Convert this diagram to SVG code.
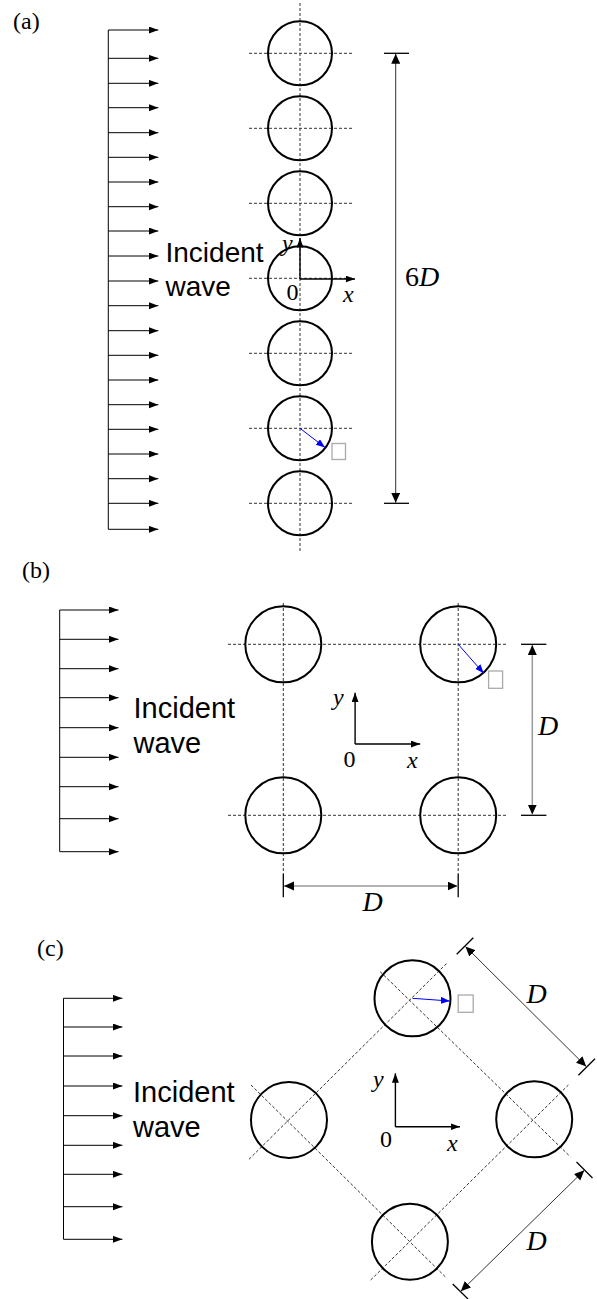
<svg xmlns="http://www.w3.org/2000/svg" width="597" height="1299" viewBox="0 0 597 1299">
<defs>
<marker id="ah" markerUnits="userSpaceOnUse" markerWidth="11" markerHeight="8" refX="9.5" refY="3.5" orient="auto"><path d="M0,0 L9.5,3.5 L0,7 z" fill="#000"/></marker>
<marker id="dh" markerUnits="userSpaceOnUse" markerWidth="11" markerHeight="10" refX="10" refY="4.5" orient="auto-start-reverse"><path d="M0,0 L10,4.5 L0,9 z" fill="#000"/></marker>
<marker id="bh" markerUnits="userSpaceOnUse" markerWidth="10" markerHeight="8" refX="9" refY="3.5" orient="auto"><path d="M0,0 L9,3.5 L0,7 z" fill="#00f"/></marker>
</defs>
<style>
.cyl{fill:none;stroke:#000;stroke-width:2}
.dash{stroke:#333;stroke-width:1;stroke-dasharray:3 2;fill:none}
.inc{stroke:#000;stroke-width:1;marker-end:url(#ah)}
.wall{stroke:#000;stroke-width:1}
.lab{font-family:"Liberation Serif","Times New Roman",serif;font-size:24px;fill:#000}
.ax{font-family:"Liberation Serif","Times New Roman",serif;font-size:24px;fill:#000}
.it{font-style:italic}
.txt{font-family:"Liberation Sans",Arial,sans-serif;font-size:28px;fill:#000}
.dim{stroke:#333;stroke-width:1;marker-start:url(#dh);marker-end:url(#dh)}
.dimg{stroke:#999;stroke-width:1.5;marker-start:url(#dh);marker-end:url(#dh)}
.tick{stroke:#000;stroke-width:1.3}
.axis{stroke:#000;stroke-width:1.4;marker-end:url(#ah);fill:none}
.blue{stroke:#00f;stroke-width:1;marker-end:url(#bh)}
.tofu{fill:#fff;stroke:#aaa;stroke-width:1.3}
</style>

<!-- Panel (a) -->
<g id="label-a"><text class="lab" x="13" y="29">(a)</text></g>
<g id="incident-a">
<line class="wall" x1="108.3" y1="30" x2="108.3" y2="529.3"/>
<line class="inc" x1="108.3" y1="30" x2="158.3" y2="30"/>
<line class="inc" x1="108.3" y1="58.3" x2="158.3" y2="58.3"/>
<line class="inc" x1="108.3" y1="83.3" x2="158.3" y2="83.3"/>
<line class="inc" x1="108.3" y1="107.7" x2="158.3" y2="107.7"/>
<line class="inc" x1="108.3" y1="132.7" x2="158.3" y2="132.7"/>
<line class="inc" x1="108.3" y1="157.3" x2="158.3" y2="157.3"/>
<line class="inc" x1="108.3" y1="182" x2="158.3" y2="182"/>
<line class="inc" x1="108.3" y1="206.7" x2="158.3" y2="206.7"/>
<line class="inc" x1="108.3" y1="231" x2="158.3" y2="231"/>
<line class="inc" x1="108.3" y1="256" x2="158.3" y2="256"/>
<line class="inc" x1="108.3" y1="281" x2="158.3" y2="281"/>
<line class="inc" x1="108.3" y1="305.7" x2="158.3" y2="305.7"/>
<line class="inc" x1="108.3" y1="330.7" x2="158.3" y2="330.7"/>
<line class="inc" x1="108.3" y1="355.3" x2="158.3" y2="355.3"/>
<line class="inc" x1="108.3" y1="380" x2="158.3" y2="380"/>
<line class="inc" x1="108.3" y1="404.7" x2="158.3" y2="404.7"/>
<line class="inc" x1="108.3" y1="429.3" x2="158.3" y2="429.3"/>
<line class="inc" x1="108.3" y1="454" x2="158.3" y2="454"/>
<line class="inc" x1="108.3" y1="478.7" x2="158.3" y2="478.7"/>
<line class="inc" x1="108.3" y1="503.3" x2="158.3" y2="503.3"/>
<line class="inc" x1="108.3" y1="529.3" x2="158.3" y2="529.3"/>
<text class="txt" x="165.5" y="262">Incident</text>
<text class="txt" x="165.5" y="295.5">wave</text>
</g>
<g id="guides-a">
<line class="dash" x1="300" y1="3" x2="300" y2="551"/>
<line class="dash" x1="249" y1="53.3" x2="354" y2="53.3"/>
<line class="dash" x1="249" y1="128.3" x2="354" y2="128.3"/>
<line class="dash" x1="249" y1="203.3" x2="354" y2="203.3"/>
<line class="dash" x1="249" y1="278.3" x2="354" y2="278.3"/>
<line class="dash" x1="249" y1="353.3" x2="354" y2="353.3"/>
<line class="dash" x1="249" y1="428.3" x2="354" y2="428.3"/>
<line class="dash" x1="249" y1="503.3" x2="354" y2="503.3"/>
</g>
<g id="cylinders-a">
<circle class="cyl" cx="300" cy="53.3" r="32"/>
<circle class="cyl" cx="300" cy="128.3" r="32"/>
<circle class="cyl" cx="300" cy="203.3" r="32"/>
<circle class="cyl" cx="300" cy="278.3" r="32"/>
<circle class="cyl" cx="300" cy="353.3" r="32"/>
<circle class="cyl" cx="300" cy="428.3" r="32"/>
<circle class="cyl" cx="300" cy="503.3" r="32"/>
</g>
<g id="axes-a">
<line class="axis" x1="300" y1="279" x2="300" y2="238"/>
<line class="axis" x1="300" y1="279" x2="355" y2="279"/>
<text class="ax it" x="282" y="251">y</text>
<text class="ax" x="286.5" y="300">0</text>
<text class="ax it" x="343" y="302">x</text>
</g>
<g id="normal-a">
<line class="blue" x1="300" y1="428.3" x2="325" y2="447.5"/>
<rect class="tofu" x="332" y="443.5" width="13.5" height="16"/>
</g>
<g id="dim-a">
<line class="tick" x1="384" y1="53.3" x2="409" y2="53.3"/>
<line class="tick" x1="384" y1="503.3" x2="409" y2="503.3"/>
<line class="dim" x1="395.7" y1="53.8" x2="395.7" y2="502.8"/>
<text class="lab" style="font-size:28px" x="405" y="286">6<tspan font-style="italic">D</tspan></text>
</g>

<!-- Panel (b) -->
<g id="label-b"><text class="lab" x="22" y="578">(b)</text></g>
<g id="incident-b">
<line class="wall" x1="59.7" y1="610" x2="59.7" y2="851.7"/>
<line class="inc" x1="59.7" y1="610" x2="118.5" y2="610"/>
<line class="inc" x1="59.7" y1="639.3" x2="118.5" y2="639.3"/>
<line class="inc" x1="59.7" y1="668.7" x2="118.5" y2="668.7"/>
<line class="inc" x1="59.7" y1="697.7" x2="118.5" y2="697.7"/>
<line class="inc" x1="59.7" y1="727.7" x2="118.5" y2="727.7"/>
<line class="inc" x1="59.7" y1="757.3" x2="118.5" y2="757.3"/>
<line class="inc" x1="59.7" y1="786.7" x2="118.5" y2="786.7"/>
<line class="inc" x1="59.7" y1="818.7" x2="118.5" y2="818.7"/>
<line class="inc" x1="59.7" y1="851.7" x2="118.5" y2="851.7"/>
<text class="txt" style="font-size:29px" x="133.5" y="718.3">Incident</text>
<text class="txt" style="font-size:29px" x="133.5" y="752.7">wave</text>
</g>
<g id="guides-b">
<line class="dash" x1="283.3" y1="603" x2="283.3" y2="874"/>
<line class="dash" x1="458.2" y1="603" x2="458.2" y2="874"/>
<line class="dash" x1="228" y1="644.3" x2="507.6" y2="644.3"/>
<line class="dash" x1="228" y1="815.3" x2="507.6" y2="815.3"/>
</g>
<g id="cylinders-b">
<circle class="cyl" cx="283.3" cy="644.3" r="38"/>
<circle class="cyl" cx="458.2" cy="644.3" r="38"/>
<circle class="cyl" cx="283.3" cy="815.3" r="38"/>
<circle class="cyl" cx="458.2" cy="815.3" r="38"/>
</g>
<g id="axes-b">
<line class="axis" x1="355.1" y1="744" x2="355.1" y2="692.7"/>
<line class="axis" x1="355.1" y1="744" x2="420.2" y2="744"/>
<text class="ax it" x="333" y="705">y</text>
<text class="ax" x="343.5" y="766.7">0</text>
<text class="ax it" x="407" y="768">x</text>
</g>
<g id="normal-b">
<line class="blue" x1="458.2" y1="644.3" x2="483.7" y2="673.3"/>
<rect class="tofu" x="488.6" y="671" width="14" height="17.3"/>
</g>
<g id="dim-b-vert">
<line class="tick" x1="521" y1="644.3" x2="546.4" y2="644.3"/>
<line class="tick" x1="521" y1="815.3" x2="546.4" y2="815.3"/>
<line class="dimg" x1="532.3" y1="645" x2="532.3" y2="814.6"/>
<text class="lab it" style="font-size:28px" x="538" y="735">D</text>
</g>
<g id="dim-b-horz">
<line class="tick" x1="283.3" y1="874" x2="283.3" y2="897.3"/>
<line class="tick" x1="458.2" y1="874" x2="458.2" y2="897.3"/>
<line class="dimg" x1="284" y1="886" x2="457.5" y2="886"/>
<text class="lab it" style="font-size:28px" x="362.5" y="911">D</text>
</g>

<!-- Panel (c) -->
<g id="label-c"><text class="lab" x="37" y="956">(c)</text></g>
<g id="incident-c">
<line class="wall" x1="63.5" y1="998.3" x2="63.5" y2="1239.3"/>
<line class="inc" x1="63.5" y1="998.3" x2="122.4" y2="998.3"/>
<line class="inc" x1="63.5" y1="1027" x2="122.4" y2="1027"/>
<line class="inc" x1="63.5" y1="1056" x2="122.4" y2="1056"/>
<line class="inc" x1="63.5" y1="1086" x2="122.4" y2="1086"/>
<line class="inc" x1="63.5" y1="1115.7" x2="122.4" y2="1115.7"/>
<line class="inc" x1="63.5" y1="1145.3" x2="122.4" y2="1145.3"/>
<line class="inc" x1="63.5" y1="1174.3" x2="122.4" y2="1174.3"/>
<line class="inc" x1="63.5" y1="1206.7" x2="122.4" y2="1206.7"/>
<line class="inc" x1="63.5" y1="1239.3" x2="122.4" y2="1239.3"/>
<text class="txt" style="font-size:29px" x="133" y="1102.3">Incident</text>
<text class="txt" style="font-size:29px" x="133" y="1136.7">wave</text>
</g>
<g id="guides-c">
<line class="dash" x1="249" y1="1159.3" x2="446.8" y2="963.3"/>
<line class="dash" x1="251" y1="1085" x2="446.8" y2="1278.3"/>
<line class="dash" x1="380.2" y1="971.7" x2="570.3" y2="1156.7"/>
<line class="dash" x1="370.7" y1="1280" x2="568.4" y2="1085"/>
</g>
<g id="cylinders-c">
<circle class="cyl" cx="412.5" cy="998.3" r="38"/>
<circle class="cyl" cx="289" cy="1120" r="38"/>
<circle class="cyl" cx="534.2" cy="1119.3" r="38"/>
<circle class="cyl" cx="409.9" cy="1241.7" r="38"/>
</g>
<g id="axes-c">
<line class="axis" x1="395.4" y1="1126.7" x2="395.4" y2="1073.3"/>
<line class="axis" x1="395.4" y1="1126.7" x2="460" y2="1126.7"/>
<text class="ax it" x="373" y="1087">y</text>
<text class="ax" x="380" y="1146.7">0</text>
<text class="ax it" x="447" y="1151">x</text>
</g>
<g id="normal-c">
<line class="blue" x1="412.5" y1="998.3" x2="449.8" y2="1001"/>
<rect class="tofu" x="458.2" y="995" width="15" height="17.3"/>
</g>
<g id="dim-c-upper">
<line class="tick" x1="456.7" y1="954.3" x2="473.3" y2="937.7"/>
<line class="tick" x1="578.4" y1="1075.3" x2="595" y2="1058.7"/>
<line class="dim" x1="465.4" y1="946.4" x2="586.3" y2="1066.6"/>
<text class="lab it" style="font-size:28px" x="526.5" y="1003">D</text>
</g>
<g id="dim-c-lower">
<line class="tick" x1="452.7" y1="1284" x2="468" y2="1299"/>
<line class="tick" x1="576.5" y1="1162" x2="592.5" y2="1178"/>
<line class="dim" x1="460.8" y1="1291.3" x2="584.3" y2="1170.3"/>
<text class="lab it" style="font-size:28px" x="526.5" y="1250">D</text>
</g>
</svg>
